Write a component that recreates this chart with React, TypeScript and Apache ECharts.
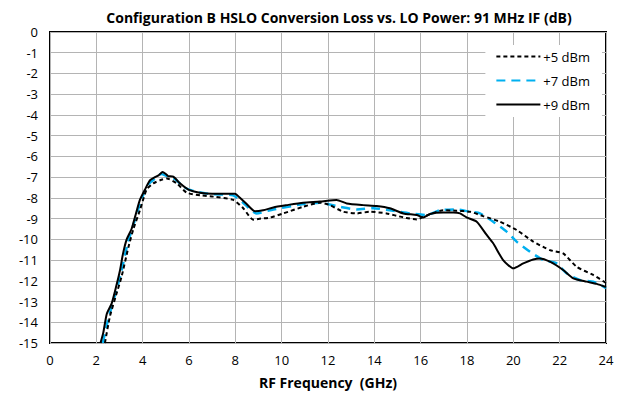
import React, { useEffect, useRef } from "react";
import * as echarts from "echarts";

const seriesNames = ["+5 dBm", "+7 dBm", "+9 dBm"];

const lo5: [number, number][] = [
  [2.37, -15], [2.59, -13.7], [2.85, -12.7], [3.09, -11.8], [3.38, -10.4], [3.6, -9.5], [3.88, -8.6],
  [4.17, -7.6], [4.46, -7.3], [4.75, -7.15], [5.04, -7.06], [5.47, -7.3], [5.9, -7.75], [6.5, -7.88],
  [7.05, -7.94], [7.91, -8.1], [8.34, -8.5], [8.77, -9.05], [9.1, -9.0], [9.5, -8.95], [10.07, -8.75],
  [10.93, -8.43], [11.65, -8.23], [12.08, -8.35], [12.66, -8.67], [13.24, -8.75], [13.81, -8.67],
  [14.53, -8.75], [15.25, -8.94], [15.83, -9.04], [16.26, -8.85], [16.97, -8.6], [17.55, -8.62],
  [18.13, -8.67], [18.7, -8.88], [19.42, -9.15], [20.14, -9.55], [20.86, -10.11], [21.58, -10.52],
  [22.15, -10.68], [22.73, -11.32], [23.45, -11.72], [24, -12.1],
];

const lo7: [number, number][] = [
  [2.28, -15], [2.5, -13.9], [2.75, -12.9], [3.05, -11.7], [3.35, -10.2], [3.6, -9.3], [3.88, -8.3],
  [4.2, -7.4], [4.5, -7.1], [4.8, -6.85], [5.05, -6.95], [5.4, -7.1], [5.8, -7.5], [6.3, -7.7],
  [7.0, -7.82], [7.9, -7.88], [8.3, -8.2], [8.92, -8.75], [9.64, -8.56], [10.93, -8.3], [11.65, -8.23],
  [12.52, -8.43], [13.24, -8.56], [13.96, -8.5], [14.67, -8.6], [15.54, -8.75], [16.26, -8.83],
  [16.83, -8.6], [17.55, -8.56], [18.13, -8.67], [18.56, -8.75], [19.13, -9.15], [19.71, -9.63],
  [20.14, -10.11], [20.72, -10.6], [21.3, -11.0], [21.87, -11.16], [22.3, -11.64], [22.87, -11.96],
  [23.45, -12.04], [24, -12.35],
];

const lo9: [number, number][] = [
  [2.18, -15], [2.3, -14.5], [2.45, -13.6], [2.66, -13.1], [2.85, -12.3], [3.02, -11.5], [3.15, -10.7],
  [3.31, -10.0], [3.52, -9.5], [3.7, -8.8], [3.88, -8.1], [4.1, -7.6], [4.32, -7.15], [4.53, -7.0],
  [4.7, -6.9], [4.86, -6.75], [5.0, -6.85], [5.1, -6.95], [5.32, -6.98], [5.61, -7.3], [5.97, -7.6],
  [6.47, -7.75], [7.0, -7.8], [7.34, -7.8], [7.98, -7.8], [8.2, -8.0], [8.49, -8.3], [8.85, -8.65],
  [9.2, -8.6], [9.64, -8.46], [10.22, -8.35], [10.93, -8.23], [11.65, -8.18], [12.37, -8.1],
  [12.81, -8.27], [13.52, -8.35], [14.1, -8.39], [14.67, -8.5], [15.25, -8.75], [15.83, -8.83],
  [16.11, -8.95], [16.4, -8.78], [16.97, -8.71], [17.41, -8.71], [17.7, -8.75], [17.98, -8.94],
  [18.42, -9.15], [18.85, -9.79], [19.13, -10.19], [19.56, -11.0], [20.0, -11.4], [20.43, -11.16],
  [20.86, -10.97], [21.15, -10.92], [21.58, -11.08], [22.15, -11.48], [22.59, -11.88], [23.16, -12.04],
  [23.6, -12.15], [24.0, -12.3],
];

const FONT = "'Open Sans', 'Liberation Sans', sans-serif";

export default function App() {
  const ref = useRef<HTMLDivElement>(null);
  useEffect(() => {
    if (!ref.current) return;
    const chart = echarts.init(ref.current, undefined, { renderer: "svg" });
    chart.setOption({
      animation: false,
      backgroundColor: "#fff",
      title: {
        text: "Configuration B HSLO Conversion Loss vs. LO Power: 91 MHz IF (dB)",
        left: 334,
        textAlign: "center",
        top: 5,
        textStyle: { fontFamily: FONT, fontWeight: "bold", fontSize: 14, color: "#000" },
      },
      grid: { left: 50, right: 24, top: 32, bottom: 59, show: true, borderColor: "#000", borderWidth: 2, backgroundColor: "transparent" },
      legend: {
        right: 28,
        top: 45,
        orient: "vertical",
        backgroundColor: "#fff",
        padding: [5, 12, 6, 10],
        itemWidth: 44,
        itemHeight: 10,
        itemGap: 11,
        itemStyle: { opacity: 0 },
        textStyle: { fontFamily: FONT, fontSize: 13, color: "#000", padding: [0, 0, 0, -2] },
        data: seriesNames,
      },
      xAxis: {
        type: "value",
        min: 0,
        max: 24,
        interval: 2,
        name: "RF Frequency  (GHz)",
        nameLocation: "middle",
        nameGap: 32,
        nameTextStyle: { fontFamily: FONT, fontWeight: "bold", fontSize: 14, color: "#000" },
        axisLine: { show: false },
        axisTick: { show: false },
        axisLabel: { fontFamily: FONT, fontSize: 13, color: "#000", margin: 10 },
        splitLine: { show: true, lineStyle: { color: "#b4b4b4", width: 1 } },
      },
      yAxis: {
        type: "value",
        min: -15,
        max: 0,
        interval: 1,
        axisLine: { show: false },
        axisTick: { show: false },
        axisLabel: { fontFamily: FONT, fontSize: 13, color: "#000", margin: 12 },
        splitLine: { show: true, lineStyle: { color: "#b4b4b4", width: 1 } },
      },
      series: [
        {
          name: seriesNames[0], type: "line", data: lo5, showSymbol: false, symbol: "none", smooth: 0.2,
          lineStyle: { color: "#000", width: 2, type: [4, 3] }, itemStyle: { color: "#000" }, z: 3,
        },
        {
          name: seriesNames[1], type: "line", data: lo7, showSymbol: false, symbol: "none", smooth: 0.2,
          lineStyle: { color: "#00b0f0", width: 2.5, type: [9, 6] }, itemStyle: { color: "#00b0f0" }, z: 2,
        },
        {
          name: seriesNames[2], type: "line", data: lo9, showSymbol: false, symbol: "none", smooth: 0.2,
          lineStyle: { color: "#000", width: 2 }, itemStyle: { color: "#000" }, z: 4,
        },
      ],
    });
    return () => chart.dispose();
  }, []);
  return <div ref={ref} style={{ width: 630, height: 402, position: "absolute", left: 0, top: 0 }} />;
}
